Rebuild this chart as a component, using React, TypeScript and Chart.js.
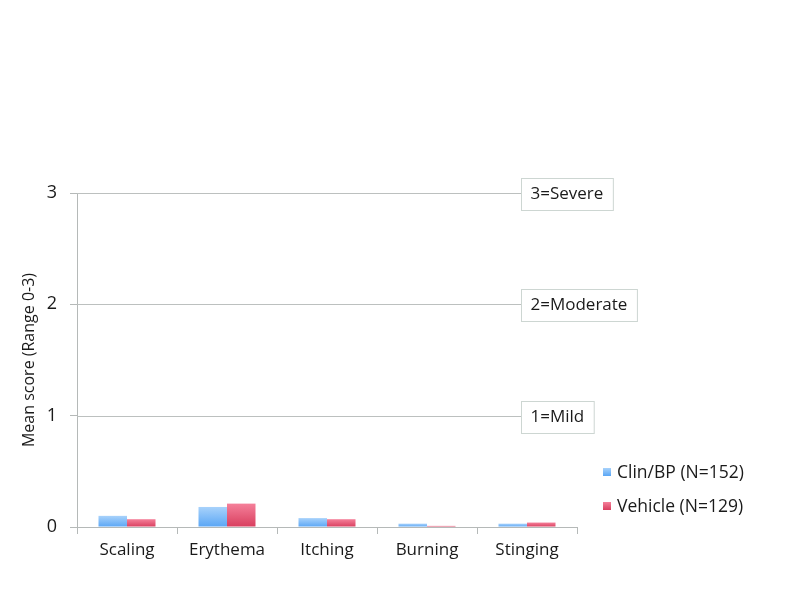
import React, { useEffect, useRef } from "react";
import { Chart, registerables } from "chart.js";

Chart.register(...registerables);

const categories = ["Scaling", "Erythema", "Itching", "Burning", "Stinging"];
const clinValues = [0.10, 0.18, 0.08, 0.03, 0.03];
const vehicleValues = [0.07, 0.21, 0.07, 0.01, 0.04];
const seriesLabels = ["Clin/BP (N=152)", "Vehicle (N=129)"];
const severityLevels = [1, 2, 3];
const severityLabels = ["1=Mild", "2=Moderate", "3=Severe"];

const FONT = "'Open Sans', sans-serif";

function barGrad(c: any, top: string, bottom: string, fallback: string) {
  const chart = c.chart;
  const area = chart.chartArea;
  if (!area || !chart.scales || !chart.scales.y || c.parsed == null) return fallback;
  const yScale = chart.scales.y;
  const base = yScale.getPixelForValue(0);
  let t = yScale.getPixelForValue(c.parsed.y);
  if (base - t < 2) t = base - 2;
  const g = chart.ctx.createLinearGradient(0, t, 0, base);
  g.addColorStop(0, top);
  g.addColorStop(1, bottom);
  return g;
}

const overlayPlugin = {
  id: "overlay",
  beforeDatasetsDraw(chart: any) {
    const ctx = chart.ctx;
    const y = chart.scales.y;
    const x0 = chart.chartArea.left;
    const xEnd = 521;
    ctx.save();
    ctx.strokeStyle = "#bcc0bf";
    ctx.lineWidth = 1;
    severityLevels.forEach((v) => {
      const py = Math.round(y.getPixelForValue(v)) + 0.5;
      ctx.beginPath();
      ctx.moveTo(x0, py);
      ctx.lineTo(xEnd, py);
      ctx.stroke();
    });
    ctx.restore();
  },
  afterDraw(chart: any) {
    const ctx = chart.ctx;
    const y = chart.scales.y;
    ctx.save();
    ctx.font = "17px " + FONT;
    ctx.textBaseline = "middle";
    severityLevels.forEach((v, i) => {
      const py = Math.round(y.getPixelForValue(v)) + 0.5;
      const label = severityLabels[i];
      const w = ctx.measureText(label).width + 19;
      const h = 32;
      const bx = 521.5;
      const by = Math.round(py - h / 2) + 0.5;
      ctx.fillStyle = "#ffffff";
      ctx.fillRect(bx, by, w, h);
      ctx.strokeStyle = "#cdd6d2";
      ctx.lineWidth = 1;
      ctx.strokeRect(bx, by, w, h);
      ctx.fillStyle = "#1a1a1a";
      ctx.textAlign = "left";
      ctx.fillText(label, bx + 9, py + 1);
    });
    // legend
    const items = chart.data.datasets;
    const legendY = [472, 506];
    ctx.font = "17.5px " + FONT;
    items.forEach((ds: any, i: number) => {
      const ly = legendY[i];
      const g = ctx.createLinearGradient(0, ly - 4, 0, ly + 4);
      g.addColorStop(0, i === 0 ? "#a8d2fb" : "#f5809a");
      g.addColorStop(1, i === 0 ? "#5aa6f5" : "#d83e5e");
      ctx.fillStyle = g;
      ctx.fillRect(603, ly - 4, 8, 8);
      ctx.fillStyle = "#1a1a1a";
      ctx.textAlign = "left";
      ctx.fillText(ds.label, 617, ly + 1);
    });
    ctx.restore();
  },
};

export default function App() {
  const ref = useRef<HTMLCanvasElement | null>(null);
  useEffect(() => {
    if (!ref.current) return;
    const chart = new Chart(ref.current, {
      type: "bar",
      data: {
        labels: categories,
        datasets: [
          {
            label: seriesLabels[0],
            data: clinValues,
            backgroundColor: (c: any) => barGrad(c, "#a8d2fb", "#5aa6f5", "#7fbcf7"),
            borderWidth: 0,
          },
          {
            label: seriesLabels[1],
            data: vehicleValues,
            backgroundColor: (c: any) => barGrad(c, "#f5809a", "#d83e5e", "#e8607c"),
            borderWidth: 0,
          },
        ],
      },
      options: {
        animation: false,
        responsive: false,
        maintainAspectRatio: false,
        layout: { padding: { left: 0, top: 193, right: 223, bottom: 0 } },
        plugins: {
          legend: { display: false },
          tooltip: { enabled: false },
          title: { display: false },
        },
        datasets: {
          bar: { categoryPercentage: 0.57, barPercentage: 1.0 },
        },
        scales: {
          x: {
            grid: {
              offset: true,
              drawOnChartArea: false,
              drawTicks: true,
              tickLength: 7,
              color: "#b5b9b8",
            },
            border: { color: "#b5b9b8" },
            ticks: {
              font: { family: FONT, size: 17 },
              color: "#1a1a1a",
              padding: 6,
            },
            afterFit: (s: any) => {
              s.height = 73;
            },
          },
          y: {
            min: 0,
            max: 3,
            ticks: {
              stepSize: 1,
              font: { family: FONT, size: 18 },
              color: "#1a1a1a",
              padding: 13,
            },
            grid: {
              drawOnChartArea: false,
              drawTicks: true,
              tickLength: 7,
              color: "#b5b9b8",
            },
            border: { color: "#b5b9b8" },
            title: {
              display: true,
              text: "Mean score (Range 0-3)",
              font: { family: FONT, size: 16 },
              color: "#1a1a1a",
              padding: { top: 20, bottom: 0 },
            },
            afterFit: (s: any) => {
              s.width = 77;
            },
          },
        },
      },
      plugins: [overlayPlugin],
    } as any);
    return () => chart.destroy();
  }, []);
  return (
    <div style={{ position: "fixed", left: 0, top: 0, width: 800, height: 600, background: "#fff" }}>
      <canvas ref={ref} width={800} height={600} style={{ width: 800, height: 600 }} />
    </div>
  );
}
